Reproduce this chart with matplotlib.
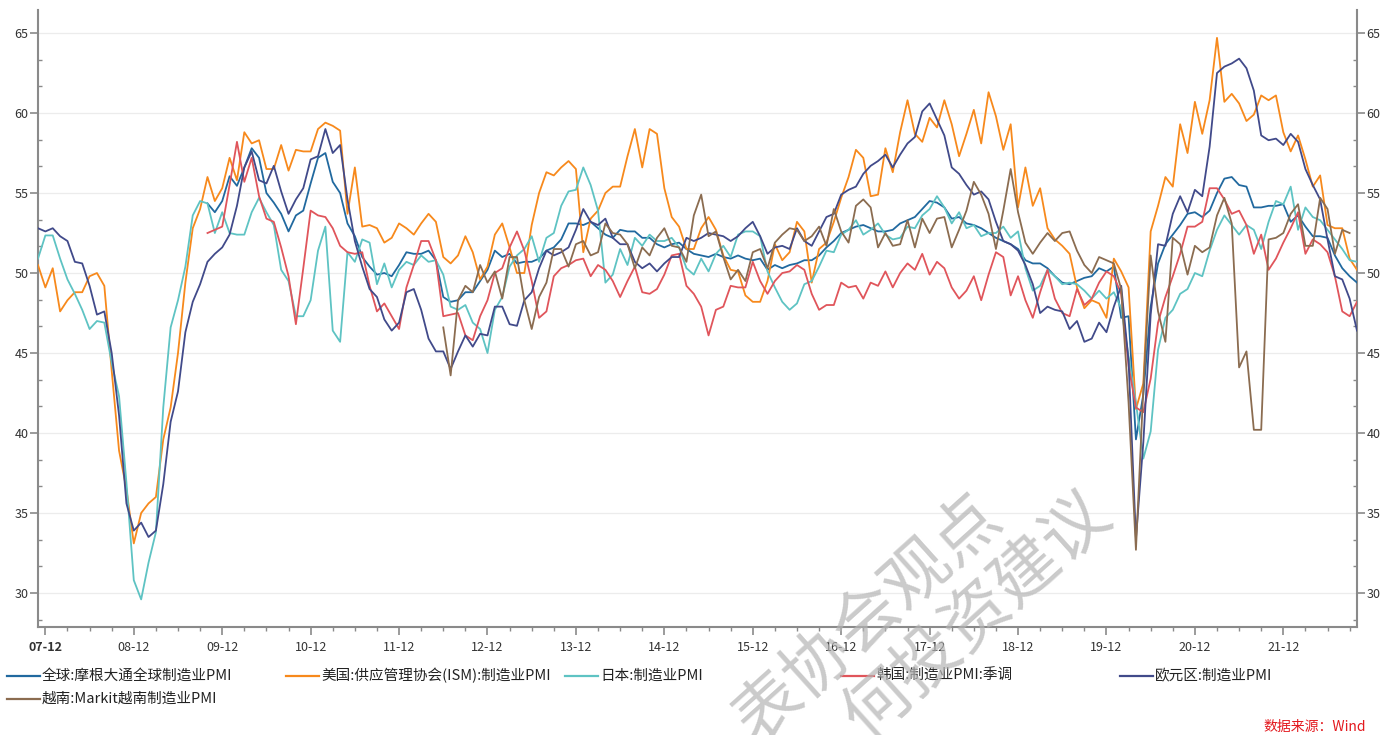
import numpy as np
import pandas as pd
import matplotlib
matplotlib.use("Agg")
import matplotlib.pyplot as plt
from matplotlib.lines import Line2D
from matplotlib.ticker import FixedLocator

plt.rcParams['font.family'] = ['Noto Sans CJK SC', 'DejaVu Sans']
plt.rcParams['axes.unicode_minus'] = False

nan = np.nan
months = pd.period_range('2007-11', '2022-10', freq='M')

series_names = ['全球:摩根大通全球制造业PMI', '美国:供应管理协会(ISM):制造业PMI', '日本:制造业PMI',
                '韩国:制造业PMI:季调', '欧元区:制造业PMI', '越南:Markit越南制造业PMI']
series_colors = ['#21699f', '#f7891c', '#5ec3c3', '#e0555b', '#414a8a', '#8b6c50']

global_pmi = [nan] * 23 + [
    54.35, 53.8, 54.5,
    56.05, 55.45, 56.6, 57.8, 57.2, 55.0, 54.4, 53.7, 52.6, 53.6, 53.9, 55.6,
    57.2, 57.5, 55.7, 55.0, 53.1, 52.3, 51.0, 50.4, 49.9, 50.0, 49.8, 50.5,
    51.3, 51.2, 51.2, 51.4, 50.8, 48.5, 48.2, 48.3, 48.8, 48.8, 49.5, 50.2,
    51.4, 51.0, 51.2, 50.6, 50.7, 50.7, 50.9, 51.4, 51.6, 52.1, 53.1, 53.1,
    53.0, 53.2, 52.8, 52.4, 52.2, 52.7, 52.6, 52.6, 52.2, 52.2, 51.8, 51.6,
    51.8, 51.9, 51.5, 51.2, 51.1, 51.0, 51.2, 51.0, 50.9, 51.1, 50.9, 50.8,
    50.9, 50.2, 50.5, 50.3, 50.5, 50.6, 50.8, 50.8, 51.1, 51.6, 52.0, 52.5,
    52.7, 52.9, 53.0, 52.8, 52.6, 52.6, 52.7, 53.1, 53.3, 53.5, 54.0, 54.5,
    54.4, 54.1, 53.4, 53.5, 53.1, 53.0, 52.8, 52.5, 52.2, 52.0, 51.8, 51.5,
    50.8, 50.6, 50.6, 50.3, 49.8, 49.4, 49.3, 49.5, 49.7, 49.8, 50.3, 50.1,
    50.4, 47.2, 47.3, 39.6, 42.4, 47.9, 50.6, 51.8, 52.4, 53.0, 53.7, 53.8,
    53.5, 53.9, 55.0, 55.9, 56.0, 55.5, 55.4, 54.1, 54.1, 54.2, 54.2, 54.3,
    53.2, 53.6, 52.9, 52.3, 52.3, 52.2, 51.1, 50.3, 49.8, 49.4]

us_ism = [
    50.5, 49.1,
    50.3, 47.6, 48.3, 48.8, 48.8, 49.8, 50.0, 49.2, 43.9, 38.9, 36.5, 33.1,
    35.0, 35.6, 36.0, 39.6, 41.6, 45.0, 49.4, 52.8, 54.0, 56.0, 54.5, 55.3,
    57.2, 55.8, 58.8, 58.1, 58.3, 56.5, 56.5, 58.0, 56.4, 57.7, 57.6, 57.6,
    59.0, 59.4, 59.2, 58.9, 53.7, 56.6, 52.9, 53.0, 52.8, 51.9, 52.2, 53.1,
    52.8, 52.4, 53.1, 53.7, 53.2, 51.0, 50.6, 51.1, 52.3, 51.3, 49.6, 50.4,
    52.4, 53.1, 51.6, 50.0, 50.0, 53.0, 55.0, 56.3, 56.1, 56.6, 57.0, 56.5,
    51.3, 53.4, 53.9, 55.0, 55.4, 55.4, 57.3, 59.0, 56.6, 59.0, 58.7, 55.3,
    53.5, 52.9, 51.5, 51.5, 52.8, 53.5, 52.7, 51.1, 50.2, 50.1, 48.6, 48.2,
    48.2, 49.5, 51.8, 50.8, 51.3, 53.2, 52.6, 49.4, 51.5, 51.9, 53.2, 54.7,
    56.0, 57.7, 57.2, 54.8, 54.9, 57.8, 56.3, 58.8, 60.8, 58.7, 58.2, 59.7,
    59.1, 60.8, 59.3, 57.3, 58.7, 60.2, 58.1, 61.3, 59.8, 57.7, 59.3, 54.1,
    56.6, 54.2, 55.3, 52.8, 52.1, 51.7, 51.2, 49.1, 47.8, 48.3, 48.1, 47.2,
    50.9, 50.1, 49.1, 41.5, 43.1, 52.6, 54.2, 56.0, 55.4, 59.3, 57.5, 60.7,
    58.7, 60.8, 64.7, 60.7, 61.2, 60.6, 59.5, 59.9, 61.1, 60.8, 61.1, 58.8,
    57.6, 58.6, 57.1, 55.4, 56.1, 53.0, 52.8, 52.8, 50.9, 50.2]

japan_pmi = [
    50.9, 52.35,
    52.35, 50.9, 49.6, 48.7, 47.7, 46.5, 47.0, 46.9, 44.4, 42.3, 36.9, 30.8,
    29.6, 31.9, 33.8, 41.6, 46.6, 48.3, 50.4, 53.6, 54.5, 54.35, 52.5, 53.8,
    52.5, 52.4, 52.4, 53.8, 54.7, 53.8, 53.0, 50.2, 49.5, 47.3, 47.3, 48.3,
    51.4, 52.9, 46.4, 45.7, 51.3, 50.7, 52.1, 51.9, 49.3, 50.6, 49.1, 50.2,
    50.7, 50.5, 51.1, 50.7, 50.8, 49.9, 47.9, 47.7, 48.0, 46.9, 46.5, 45.0,
    47.7, 48.5, 50.4, 51.1, 51.5, 52.3, 50.7, 52.2, 52.5, 54.2, 55.1, 55.2,
    56.6, 55.5, 53.9, 49.4, 49.9, 51.5, 50.5, 52.2, 51.7, 52.4, 52.0, 52.0,
    52.2, 51.6, 50.3, 49.9, 50.9, 50.1, 51.2, 51.7, 51.0, 52.4, 52.6, 52.6,
    52.3, 50.1, 49.1, 48.2, 47.7, 48.1, 49.3, 49.5, 50.4, 51.4, 51.3, 52.4,
    52.7, 53.3, 52.4, 52.7, 53.1, 52.4, 52.1, 52.2, 52.9, 52.8, 53.6, 54.0,
    54.8, 54.1, 53.1, 53.8, 52.8, 53.0, 52.3, 52.5, 52.5, 52.9, 52.2, 52.6,
    50.3, 48.9, 49.2, 50.2, 49.8, 49.3, 49.4, 49.3, 48.9, 48.4, 48.9, 48.4,
    48.8, 47.8, 44.8, 41.9, 38.4, 40.1, 45.2, 47.2, 47.7, 48.7, 49.0, 50.0,
    49.8, 51.4, 52.7, 53.6, 53.0, 52.4, 53.0, 52.7, 51.5, 53.2, 54.5, 54.3,
    55.4, 52.7, 54.1, 53.5, 53.3, 52.7, 52.1, 51.5, 50.8, 50.7]

korea_pmi = [nan] * 23 + [
    52.5, 52.7, 52.9,
    55.5, 58.2, 55.7, 57.2, 54.8, 53.4, 53.2, 51.6, 49.8, 46.8, 50.3, 53.9,
    53.6, 53.5, 52.8, 51.7, 51.3, 51.2, 51.3, 49.2, 47.6, 48.1, 47.3, 46.5,
    49.1, 50.5, 52.0, 52.0, 50.8, 47.3, 47.4, 47.5, 46.1, 45.8, 47.3, 48.3,
    50.0, 50.3, 51.6, 52.6, 51.4, 49.5, 47.2, 47.6, 49.8, 50.3, 50.5, 50.8,
    50.9, 49.8, 50.5, 50.2, 49.5, 48.5, 49.5, 50.4, 48.8, 48.7, 49.0, 49.9,
    51.1, 51.2, 49.2, 48.7, 47.9, 46.1, 47.7, 47.9, 49.2, 49.1, 49.1, 50.7,
    49.5, 48.7, 49.5, 50.0, 50.1, 50.5, 50.2, 48.7, 47.7, 48.0, 48.0, 49.4,
    49.1, 49.2, 48.4, 49.4, 49.2, 50.1, 49.1, 50.0, 50.6, 50.2, 51.2, 49.9,
    50.7, 50.3, 49.1, 48.4, 48.9, 49.8, 48.3, 49.9, 51.3, 51.0, 48.6, 49.8,
    48.3, 47.2, 48.8, 50.2, 48.4, 47.5, 47.3, 49.0, 48.0, 48.4, 49.4, 50.1,
    49.8, 48.7, 44.2, 41.6, 41.3, 43.4, 46.9, 48.5, 49.8, 51.2, 52.9, 52.9,
    53.2, 55.3, 55.3, 54.6, 53.7, 53.9, 53.0, 51.2, 52.4, 50.2, 50.9, 51.9,
    52.8, 53.8, 51.2, 52.1, 51.8, 51.3, 49.8, 47.6, 47.3, 48.2]

euro_pmi = [
    52.8, 52.6,
    52.8, 52.3, 52.0, 50.7, 50.6, 49.2, 47.4, 47.6, 45.0, 41.1, 35.6, 33.9,
    34.4, 33.5, 33.9, 36.8, 40.7, 42.6, 46.3, 48.2, 49.3, 50.7, 51.2, 51.6,
    52.4, 54.2, 56.6, 57.6, 55.8, 55.6, 56.7, 55.1, 53.7, 54.6, 55.3, 57.1,
    57.3, 59.0, 57.5, 58.0, 54.6, 52.0, 50.4, 49.0, 48.5, 47.1, 46.4, 46.9,
    48.8, 49.0, 47.7, 45.9, 45.1, 45.1, 44.0, 45.1, 46.1, 45.4, 46.2, 46.1,
    47.9, 47.9, 46.8, 46.7, 48.3, 48.8, 50.3, 51.4, 51.1, 51.3, 51.6, 52.7,
    54.0, 53.2, 53.0, 53.4, 52.2, 51.8, 51.8, 50.7, 50.3, 50.6, 50.1, 50.6,
    51.0, 51.0, 52.2, 52.0, 52.2, 52.5, 52.4, 52.3, 52.0, 52.3, 52.8, 53.2,
    52.3, 51.2, 51.6, 51.7, 51.5, 52.8, 52.0, 51.7, 52.6, 53.5, 53.7, 54.9,
    55.2, 55.4, 56.2, 56.7, 57.0, 57.4, 56.6, 57.4, 58.1, 58.5, 60.1, 60.6,
    59.6, 58.6, 56.6, 56.2, 55.5, 54.9, 55.1, 54.6, 53.2, 52.0, 51.8, 51.4,
    50.5, 49.3, 47.5, 47.9, 47.7, 47.6, 46.5, 47.0, 45.7, 45.9, 46.9, 46.3,
    47.9, 49.2, 44.5, 33.4, 39.4, 47.4, 51.8, 51.7, 53.7, 54.8, 53.8, 55.2,
    54.8, 57.9, 62.5, 62.9, 63.1, 63.4, 62.8, 61.4, 58.6, 58.3, 58.4, 58.0,
    58.7, 58.2, 56.5, 55.5, 54.6, 52.1, 49.8, 49.6, 48.4, 46.4]

vietnam_pmi = [nan] * 55 + [
    46.6, 43.6, 48.3, 49.2, 48.8, 50.5, 49.4,
    50.1, 48.4, 51.0, 51.0, 48.3, 46.5, 48.5, 49.4, 51.5, 51.5, 50.4, 51.8,
    52.0, 51.1, 51.3, 53.1, 52.5, 52.4, 51.8, 50.3, 51.6, 51.1, 52.2, 52.8,
    51.7, 51.6, 50.7, 53.6, 54.9, 52.3, 52.6, 51.0, 49.6, 50.2, 49.5, 51.3,
    51.5, 50.3, 51.9, 52.4, 52.8, 52.7, 52.0, 52.3, 52.9, 51.7, 54.0, 52.6,
    51.9, 54.2, 54.6, 54.1, 51.6, 52.5, 51.7, 51.8, 53.3, 51.6, 53.4, 52.5,
    53.4, 53.5, 51.6, 52.7, 53.9, 55.7, 54.9, 53.7, 51.5, 53.9, 56.5, 53.8,
    51.9, 51.2, 51.9, 52.5, 52.0, 52.5, 52.6, 51.4, 50.5, 50.0, 51.0, 50.8,
    50.6, 49.0, 41.9, 32.7, 42.7, 51.1, 47.6, 45.7, 52.2, 51.8, 49.9, 51.7,
    51.3, 51.6, 53.6, 54.7, 53.1, 44.1, 45.1, 40.2, 40.2, 52.1, 52.2, 52.5,
    53.7, 54.3, 51.7, 51.7, 54.7, 54.0, 51.2, 52.7, 52.5, nan]

all_series = [global_pmi, us_ism, japan_pmi, korea_pmi, euro_pmi, vietnam_pmi]

W, H = 1400, 735
fig = plt.figure(figsize=(W / 100, H / 100), dpi=100)
ax = fig.add_axes([38 / W, 108 / H, 1319 / W, 617 / H])

x = np.arange(len(months))
for vals, col in zip(all_series, series_colors):
    ax.plot(x, np.array(vals, dtype=float), color=col, lw=1.3, zorder=3)

ax.set_xlim(0, len(months) - 1)
ax.set_ylim(27.875, 66.44)

dec_idx = [i for i, p in enumerate(months) if p.month == 12]
dec_lab = [f"{p.year % 100:02d}-12" for p in months if p.month == 12]
ax.set_xticks(dec_idx)
ax.set_xticklabels(dec_lab)
ax.xaxis.set_minor_locator(FixedLocator([i for i in range(1, len(months), 3) if i not in dec_idx]))
ax.get_xticklabels()[0].set_fontweight('bold')

ax.set_yticks(np.arange(30, 66, 5))
ax.yaxis.set_minor_locator(FixedLocator([v for v in np.arange(30 - 5 / 3, 66, 5 / 3)
                                         if abs((v - 30) / 5 - round((v - 30) / 5)) > 0.01]))

axis_col = '#8a8a8a'
ax.tick_params(axis='y', which='major', direction='out', length=6, width=1.2, color=axis_col,
               labelsize=9, labelcolor='#333333', left=True, right=True,
               labelleft=True, labelright=True, pad=1)
ax.tick_params(axis='y', which='minor', direction='in', length=3, width=1, color=axis_col,
               left=True, right=True)
ax.tick_params(axis='x', which='major', direction='out', length=6, width=1.2, color=axis_col,
               labelsize=9, labelcolor='#333333', pad=4)
ax.tick_params(axis='x', which='minor', direction='out', length=3, width=1, color=axis_col)

ax.yaxis.grid(True, which='major', color='#ececec', lw=0.9)
ax.set_axisbelow(True)
ax.spines['top'].set_visible(False)
for s in ['left', 'right', 'bottom']:
    ax.spines[s].set_color(axis_col)
    ax.spines[s].set_linewidth(1.5)

# legend (manual layout)
leg_pos = [(7, 676), (286, 676), (565, 676), (841, 676), (1120, 676), (7, 699)]
for (hx, hy), name, col in zip(leg_pos, series_names, series_colors):
    yy = 1 - hy / H
    fig.add_artist(Line2D([hx / W, (hx + 33) / W], [yy, yy], transform=fig.transFigure,
                          color=col, lw=1.6))
    fig.text((hx + 35) / W, yy, name, ha='left', va='center', fontsize=10.5, color='#222222')

fig.text(1366 / W, 1 - 727 / H, '数据来源：Wind', ha='right', va='center',
         fontsize=10, color='#e3191e', style='italic')

# watermark (only the part visible in the picture)
fig.text(868 / W, 1 - 619 / H, '表协会观点', rotation=42, rotation_mode='anchor',
         ha='center', va='center', fontsize=48, color='#b4b4b4', alpha=0.7, zorder=10)
fig.text(978 / W, 1 - 616 / H, '何投资建议', rotation=42, rotation_mode='anchor',
         ha='center', va='center', fontsize=48, color='#b4b4b4', alpha=0.7, zorder=10)

fig.savefig('out.png', dpi=100)
